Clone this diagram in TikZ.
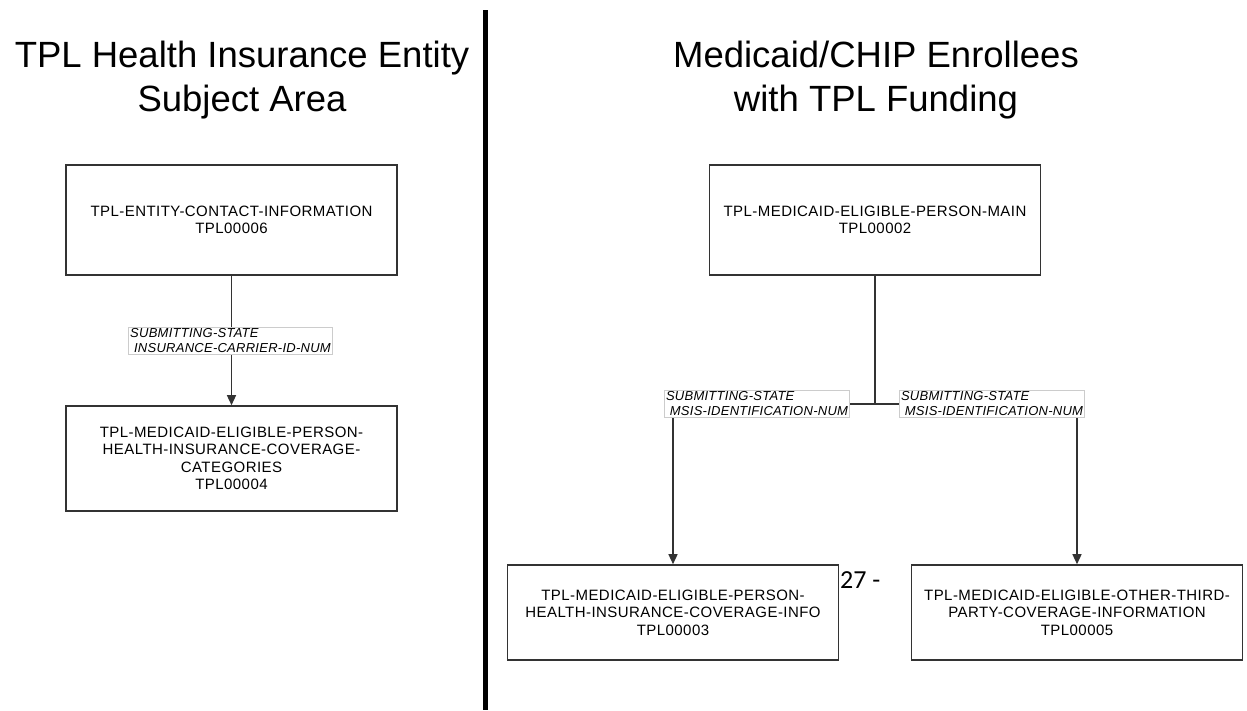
\documentclass[tikz,border=0pt]{standalone}
\usepackage{fontspec}
\setmainfont{Liberation Sans}
\newfontfamily\boxfont[LetterSpace=3]{Liberation Sans}
\newfontfamily\lblfont[LetterSpace=2]{Liberation Sans}
\newfontfamily\pgfont{Carlito}
\usetikzlibrary{arrows.meta}
\begin{document}
\begin{tikzpicture}[x=1pt,y=-1pt,
  entity/.style={draw=black!80,line width=1.6pt,minimum width=331pt,inner sep=0pt,font=\boxfont\fontsize{15}{17.5}\selectfont,align=center},
  rel/.style={draw=black!80,line width=1.4pt},
  relarr/.style={rel,-{Triangle[length=10pt,width=9pt]}},
  lbl/.style={draw=black!20,fill=white,line width=0.6pt,inner sep=1.5pt,font=\lblfont\itshape\fontsize{13}{15}\selectfont,align=left},
  ttl/.style={font=\fontsize{36.5}{44}\selectfont,align=center}]
\useasboundingbox (0,0) rectangle (1247,710);
\fill[white] (0,0) rectangle (1247,710);
% titles
\node[ttl] (t1) at (242,80) {TPL Health Insurance Entity\\Subject Area};
\node[ttl] (t2) at (876,80) {Medicaid/CHIP Enrollees\\with TPL Funding};
% divider
\draw[line width=5pt] (485,10) -- (485,710);
% left side
\node[entity,minimum height=110pt] (a) at (231.5,220) {TPL-ENTITY-CONTACT-INFORMATION\\TPL00006};
\node[entity,minimum height=105pt] (b) at (231.5,458.5) {TPL-MEDICAID-ELIGIBLE-PERSON-\\HEALTH-INSURANCE-COVERAGE-\\CATEGORIES\\TPL00004};
\draw[relarr] (a.south) -- (b.north);
\node[lbl] (l1) at (230.5,340.5) {SUBMITTING-STATE\\\ INSURANCE-CARRIER-ID-NUM};
% right side
\node[entity,minimum height=110pt] (c) at (875,220) {TPL-MEDICAID-ELIGIBLE-PERSON-MAIN\\TPL00002};
\node[entity,minimum height=95pt] (d) at (673,612.5) {TPL-MEDICAID-ELIGIBLE-PERSON-\\HEALTH-INSURANCE-COVERAGE-INFO\\TPL00003};
\node[entity,minimum height=95pt] (e) at (1077,612.5) {TPL-MEDICAID-ELIGIBLE-OTHER-THIRD-\\PARTY-COVERAGE-INFORMATION\\TPL00005};
\coordinate (j) at (875,404);
\draw[rel] (c.south) -- (j);
\draw[relarr] (j) -| (d.north);
\draw[relarr] (j) -| (e.north);
\node[lbl] (l2) at (757,404) {SUBMITTING-STATE\\\ MSIS-IDENTIFICATION-NUM};
\node[lbl] (l3) at (992,404) {SUBMITTING-STATE\\\ MSIS-IDENTIFICATION-NUM};
% page number fragment
\node[font=\pgfont\fontsize{26}{30}\selectfont,anchor=west,inner sep=0pt] (pg) at (840,580) {27 -};
\end{tikzpicture}
\end{document}
